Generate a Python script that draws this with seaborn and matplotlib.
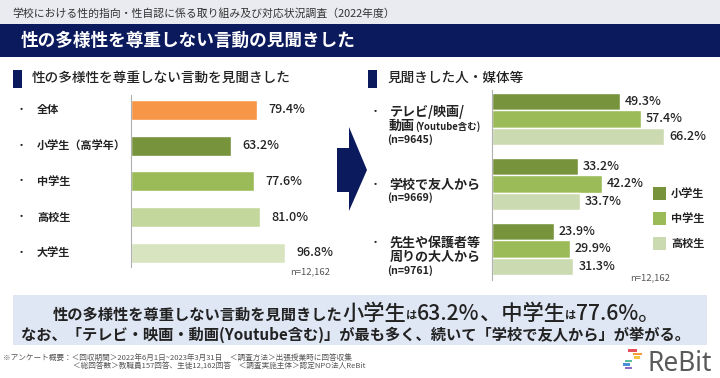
import numpy as np
import pandas as pd
import matplotlib
matplotlib.use('Agg')
import matplotlib.pyplot as plt
import matplotlib.transforms as mtransforms
from matplotlib.patches import Rectangle, Polygon
import seaborn as sns

W, H = 720, 378

# left chart: 性の多様性を尊重しない言動を見聞きした
groups = ['全体', '小学生（高学年）', '中学生', '高校生', '大学生']
seen_rates = [79.4, 63.2, 77.6, 81.0, 96.8]
group_colors = ['#f79646', '#77933c', '#9bbb59', '#c3d69b', '#d8e4bf']

# right chart: 見聞きした人・媒体等
media = ['テレビ/映画/動画', '学校で友人から', '先生や保護者等周りの大人から']
levels = ['小学生', '中学生', '高校生']
elem_rates = [49.3, 33.2, 23.9]
junior_rates = [57.4, 42.2, 29.9]
high_rates = [66.2, 33.7, 31.3]
level_colors = ['#77933c', '#9bbb59', '#cbdab0']

NAVY = '#0b1a5c'
TXT = '#222222'


def fx(x):
    return x / W


def fy(y):
    return 1 - y / H


def px_text(fig, x, y, s, **kw):
    kw.setdefault('va', 'center')
    kw.setdefault('color', TXT)
    return fig.text(fx(x), fy(y), s, **kw)


def rect(fig, x, y, w, h, color):
    fig.patches.append(Rectangle((fx(x), fy(y + h)), w / W, h / H, transform=fig.transFigure,
                                 color=color, zorder=-1, lw=0))


def mixed_line(fig, pieces, cx, y_base):
    # pieces of different sizes on one baseline, centered on cx
    r = fig.canvas.get_renderer()
    texts = []
    for s, size, weight in pieces:
        t = fig.text(0, fy(y_base), s, fontsize=size, fontweight=weight, va='baseline', ha='left', color=TXT)
        texts.append(t)
    widths = [t.get_window_extent(r).width for t in texts]
    x = cx - sum(widths) / 2
    for t, w in zip(texts, widths):
        t.set_x(fx(x))
        x += w


def header(fig):
    rect(fig, 0, 0, W, 24, '#e9ebf0')
    px_text(fig, 12, 13, '学校における性的指向・性自認に係る取り組み及び対応状況調査（2022年度）', fontsize=7.8, color='#333333')
    rect(fig, 0, 24, W, 33, NAVY)
    px_text(fig, 21, 41, '性の多様性を尊重しない言動の見聞きした', fontsize=12.7, fontweight='bold', color='white')

    rect(fig, 13, 70, 9, 18, NAVY)
    px_text(fig, 32, 78, '性の多様性を尊重しない言動を見聞きした', fontsize=9.8, fontweight='medium')
    rect(fig, 368, 70, 9, 18, NAVY)
    px_text(fig, 387, 78, '見聞きした人・媒体等', fontsize=9.8, fontweight='medium')

    # arrow between the charts
    pts = [(337, 148), (349, 148), (349, 127), (367, 170), (349, 211), (349, 192), (337, 192)]
    fig.patches.append(Polygon([(fx(a), fy(b)) for a, b in pts], closed=True, transform=fig.transFigure,
                               color=NAVY, zorder=-1, lw=0))


def style_axis(ax):
    ax.set_facecolor('none')
    for s in ['top', 'right', 'bottom']:
        ax.spines[s].set_visible(False)
    ax.spines['left'].set_color('#b0b0b0')
    ax.spines['left'].set_linewidth(0.8)
    ax.set_xticks([])
    ax.set_yticks([])
    ax.set_xlabel('')
    ax.set_ylabel('')


def left_chart(fig):
    ax = fig.add_axes([fx(131), fy(267), 159 / W, 172 / H])
    sns.barplot(x=seen_rates, y=groups, hue=groups, palette=group_colors, legend=False, saturation=1,
                orient='h', width=0.56, errorbar=None, ax=ax)
    ax.set_xlim(0, 100)
    ax.set_ylim(4.40, -0.42)
    for c in ax.containers:
        ax.bar_label(c, fmt='%.1f%%', padding=8, fontsize=9, fontweight='medium', color=TXT)
    style_axis(ax)

    trans = mtransforms.blended_transform_factory(fig.transFigure, ax.transData)
    for i, g in enumerate(groups):
        ax.text(fx(21), i, '・', transform=trans, ha='center', va='center', fontsize=8, color=TXT, clip_on=False)
        ax.text(fx(37), i, g, transform=trans, ha='left', va='center', fontsize=8, fontweight='bold',
                color=TXT, clip_on=False)
    px_text(fig, 290, 272, 'n=12,162', fontsize=6.8, color='#555555')


def right_chart(fig):
    df = pd.DataFrame({
        '媒体': media * 3,
        '学年': np.repeat(levels, len(media)),
        '割合': elem_rates + junior_rates + high_rates,
    })
    ax = fig.add_axes([fx(492), fy(280), 208 / W, 190 / H])
    sns.barplot(data=df, x='割合', y='媒体', hue='学年', palette=level_colors, legend=False, saturation=1,
                orient='h', width=0.8, errorbar=None, ax=ax)
    ax.set_xlim(0, 80)
    ax.set_ylim(2.477, -0.446)
    for c in ax.containers:
        ax.bar_label(c, fmt='%.1f%%', padding=3.5, fontsize=9, fontweight='medium', color=TXT)
    style_axis(ax)

    lab = dict(fontsize=9.4, fontweight='bold')
    small = dict(fontsize=7.6, fontweight='bold')
    px_text(fig, 375, 112, '・', ha='center', fontsize=8)
    px_text(fig, 390, 112, 'テレビ/映画/', **lab)
    px_text(fig, 389, 126, '動画', **lab)
    px_text(fig, 415, 127, '(Youtube含む)', fontsize=6.8, fontweight='bold')
    px_text(fig, 387, 140, '(n=9645)', **small)

    px_text(fig, 375, 185, '・', ha='center', fontsize=8)
    px_text(fig, 389, 185, '学校で友人から', **lab)
    px_text(fig, 387, 198, '(n=9669)', **small)

    px_text(fig, 375, 243, '・', ha='center', fontsize=8)
    px_text(fig, 389, 243, '先生や保護者等', **lab)
    px_text(fig, 390, 257, '周りの大人から', **lab)
    px_text(fig, 387, 271, '(n=9761)', **small)

    # legend
    for i, (lv, col) in enumerate(zip(levels, level_colors)):
        rect(fig, 653, 187 + 25 * i, 13, 13, col)
        px_text(fig, 671, 193.5 + 25 * i, lv, fontsize=8, fontweight='bold')
    px_text(fig, 630, 278, 'n=12,162', fontsize=6.8, color='#555555')


def footer(fig):
    rect(fig, 13, 295, 694, 50, '#dfe6f4')
    mixed_line(fig, [('性の多様性を尊重しない言動を見聞きした', 11, 'bold'),
                     ('小学生', 15.3, 'medium'), ('は', 8, 'bold'), ('63.2%', 15.3, 'medium'),
                     ('、中学生', 15.3, 'medium'), ('は', 8, 'bold'), ('77.6%。', 15.3, 'medium')],
               356, 320)
    mixed_line(fig, [('なお、「テレビ・映画・動画(Youtube含む)」が最も多く、続いて「学校で友人から」が挙がる。', 11, 'bold')],
               356, 340)

    px_text(fig, 3, 358, '※アンケート概要：＜回収期間＞2022年6月1日~2023年3月31日　＜調査方法＞出張授業時に回答収集',
            fontsize=5.5, color='#555555')
    px_text(fig, 73, 367, '＜総回答数＞教職員157回答、生徒12,162回答　＜調査実施主体＞認定NPO法人ReBit',
            fontsize=5.5, color='#555555')

    # ReBit logo
    stripes = [(628, 349, 9, '#e8505b'), (633, 352.5, 9, '#f39c3c'), (634, 356, 6, '#f4c542'),
               (625, 359.5, 7, '#5dbb9a'), (623, 363, 7, '#4a90d9'), (625, 366.5, 7, '#8e6bbf')]
    for x, y, w, col in stripes:
        rect(fig, x, y, w, 2.5, col)
    fig.text(fx(647), fy(371), 'ReBit', fontsize=19, fontweight='bold', color='#5a5a5a',
             family='Noto Sans', va='baseline')


def main():
    sns.set_style('white')
    plt.rcParams['font.family'] = ['Noto Sans CJK JP', 'DejaVu Sans']
    fig = plt.figure(figsize=(W / 100, H / 100), dpi=100)
    fig.patch.set_facecolor('white')
    header(fig)
    left_chart(fig)
    right_chart(fig)
    footer(fig)
    fig.savefig('out.png', dpi=100)


if __name__ == '__main__':
    main()
